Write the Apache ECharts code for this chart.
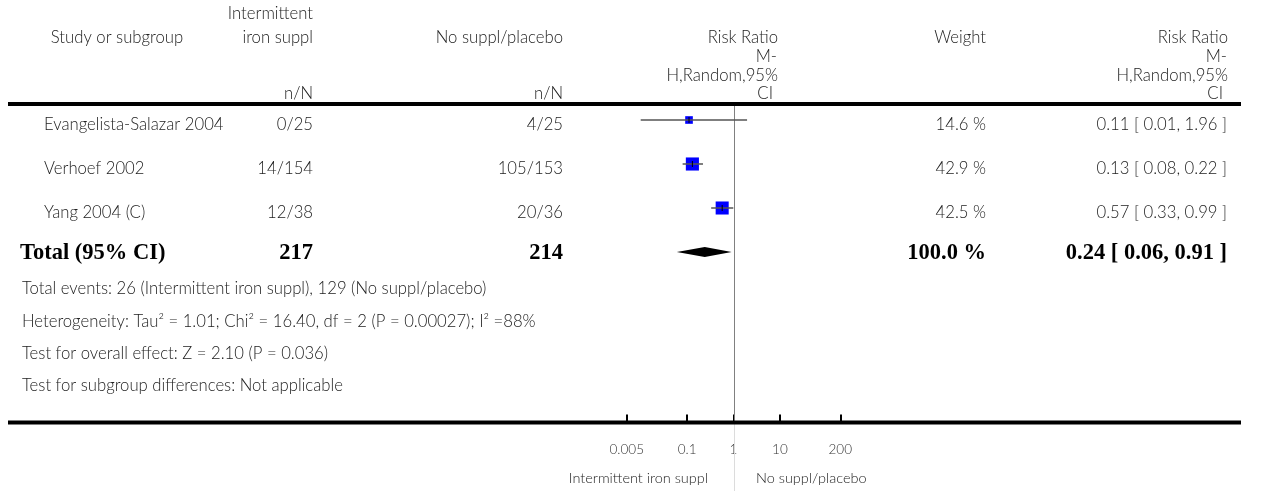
<!DOCTYPE html>
<html>
<head>
<meta charset="utf-8">
<script src="https://cdn.jsdelivr.net/npm/echarts@6/dist/echarts.min.js"></script>
<style>
html,body{margin:0;padding:0;background:#fff;}
#chart{width:1268px;height:491px;}
</style>
</head>
<body>
<div id="chart"></div>
<script>
// ---------------- DATA ----------------
const studyNames = ['Evangelista-Salazar 2004', 'Verhoef 2002', 'Yang 2004 (C)'];
const ironEvents = ['0/25', '14/154', '12/38'];
const placeboEvents = ['4/25', '105/153', '20/36'];
const riskRatio = [0.11, 0.13, 0.57];
const ciLower = [0.01, 0.08, 0.33];
const ciUpper = [1.96, 0.22, 0.99];
const weightPct = [14.6, 42.9, 42.5];

const totalLabel = 'Total (95% CI)';
const totalIron = 217;
const totalPlacebo = 214;
const totalRR = 0.24;
const totalLower = 0.06;
const totalUpper = 0.91;
const totalWeight = 100.0;

const tickValues = [0.005, 0.1, 1, 10, 200];
const tickLabels = ['0.005', '0.1', '1', '10', '200'];

const footerLines = [
  'Total events: 26 (Intermittent iron suppl), 129 (No suppl/placebo)',
  'Heterogeneity: Tau² = 1.01; Chi² = 16.40, df = 2 (P = 0.00027); I² =88%',
  'Test for overall effect: Z = 2.10 (P = 0.036)',
  'Test for subgroup differences: Not applicable'
];
const headerStudy = ['Study or subgroup'];
const headerIron = ['Intermittent', 'iron suppl', 'n/N'];
const headerPlacebo = ['No suppl/placebo', 'n/N'];
const headerPlot = ['Risk Ratio', 'M-', 'H,Random,95%', 'CI'];
const headerWeight = ['Weight'];
const headerRR = ['Risk Ratio', 'M-', 'H,Random,95%', 'CI'];
const favoursLeft = 'Intermittent iron suppl';
const favoursRight = 'No suppl/placebo';

// ---------------- LAYOUT / STYLE ----------------
const SANS = 'Lato, "Noto Sans", sans-serif';
const SERIF = '"Liberation Serif", "DejaVu Serif", serif';
const TXT = '#222';
const FS = 16.7;
const BFS = 22.5;
const COL = { study: 44, iron: 313, placebo: 563, weight: 986, rr: 1227 };
const LINE_L = 8, LINE_R = 1241;
const HEAD_LINE_Y = 104, AXIS_Y = 422.5;

const fmt2 = v => v.toFixed(2);
const rrText = (r, l, h) => `${fmt2(r)} [ ${fmt2(l)}, ${fmt2(h)} ]`;
const lg = v => Math.log10(v);

function txt(text, x, y, align, opts) {
  opts = opts || {};
  return {
    type: 'text', x: x, y: y, silent: true,
    style: {
      text: text, textAlign: align, textVerticalAlign: 'middle',
      fontFamily: opts.serif ? SERIF : SANS,
      fontSize: opts.size || FS,
      fontWeight: opts.bold ? 'bold' : (opts.weight || 300),
      fill: opts.color || TXT
    }
  };
}

const graphics = [];
// header texts
const headY = [38, 57, 76, 94];
graphics.push(txt(headerStudy[0], 117, headY[0], 'center'));
graphics.push(txt(headerIron[0], COL.iron, 14, 'right'));
graphics.push(txt(headerIron[1], COL.iron, headY[0], 'right'));
graphics.push(txt(headerIron[2], COL.iron, headY[3], 'right'));
graphics.push(txt(headerPlacebo[0], COL.placebo, headY[0], 'right'));
graphics.push(txt(headerPlacebo[1], COL.placebo, headY[3], 'right'));
const plotHeadX = [778, 777, 778, 773];
const rrHeadX = [1228, 1227, 1228, 1223];
headerPlot.forEach((t, i) => graphics.push(txt(t, plotHeadX[i], headY[i], 'right')));
headerRR.forEach((t, i) => graphics.push(txt(t, rrHeadX[i], headY[i], 'right')));
graphics.push(txt(headerWeight[0], COL.weight, headY[0], 'right'));
// rules
graphics.push({ type: 'rect', silent: true, z: 10, shape: { x: LINE_L, y: HEAD_LINE_Y - 2, width: LINE_R - LINE_L, height: 4 }, style: { fill: '#000' } });
graphics.push({ type: 'rect', silent: true, z: 10, shape: { x: LINE_L, y: AXIS_Y - 2, width: LINE_R - LINE_L, height: 4 }, style: { fill: '#000' } });
// footer
footerLines.forEach((t, i) => graphics.push(txt(t, 22, 289 + 32.3 * i, 'left')));
// favours
graphics.push(txt(favoursLeft, 708, 478, 'right', { size: 14.5 }));
graphics.push(txt(favoursRight, 756, 478, 'left', { size: 14.5 }));

const chart = echarts.init(document.getElementById('chart'), null, { renderer: 'canvas' });

const studyData = studyNames.map((_, i) => [lg(riskRatio[i]), i, lg(ciLower[i]), lg(ciUpper[i]), weightPct[i]]);
const totalData = [[lg(totalRR), studyNames.length, lg(totalLower), lg(totalUpper)]];
const tableData = studyNames.map((_, i) => [0, i]).concat([[0, studyNames.length]]);

const option = {
  animation: false,
  backgroundColor: '#fff',
  grid: { left: 594.3, right: 395.3, top: 98, bottom: 491 - AXIS_Y, containLabel: false },
  xAxis: {
    type: 'value', min: -3, max: 3, position: 'bottom',
    axisLine: { show: false, onZero: false },
    splitLine: { show: false },
    axisTick: {
      show: true, inside: true, length: 8,
      lineStyle: { color: '#000', width: 2 },
      customValues: tickValues.map(lg)
    },
    axisLabel: {
      customValues: tickValues.map(lg),
      margin: 20,
      fontFamily: SANS, fontSize: 13.5, fontWeight: 300, color: '#333',
      formatter: function (v) {
        for (let i = 0; i < tickValues.length; i++) {
          if (Math.abs(lg(tickValues[i]) - v) < 1e-6) return tickLabels[i];
        }
        return '';
      }
    }
  },
  yAxis: { type: 'value', inverse: true, min: -0.5, max: (AXIS_Y - 98) / 44 - 0.5, show: false },
  graphic: graphics,
  series: [
    {
      type: 'custom', name: 'ref', silent: true, z: 1,
      data: [[0, 0]],
      renderItem: function (params, api) {
        const x = Math.round(api.coord([0, 0])[0]) + 0.5;
        return {
          type: 'group', children: [
            { type: 'line', shape: { x1: x, y1: HEAD_LINE_Y, x2: x, y2: AXIS_Y }, style: { stroke: '#808080', lineWidth: 1 } },
            { type: 'line', shape: { x1: x, y1: AXIS_Y, x2: x, y2: 491 }, style: { stroke: '#dcdcdc', lineWidth: 1 } }
          ]
        };
      }
    },
    {
      type: 'custom', name: 'studies', silent: true, z: 3,
      data: studyData,
      encode: { x: [0, 2, 3], y: 1 },
      renderItem: function (params, api) {
        const c = api.coord([api.value(0), api.value(1)]);
        const l = api.coord([api.value(2), api.value(1)]);
        const h = api.coord([api.value(3), api.value(1)]);
        const side = 2 * Math.sqrt(api.value(4));
        return {
          type: 'group', children: [
            { type: 'rect', shape: { x: c[0] - side / 2, y: c[1] - side / 2, width: side, height: side }, style: { fill: '#0000ff' } },
            { type: 'line', shape: { x1: l[0], y1: c[1], x2: h[0], y2: c[1] }, style: { stroke: '#555', lineWidth: 1.5 } },
            { type: 'line', shape: { x1: c[0], y1: c[1] - 3, x2: c[0], y2: c[1] + 3 }, style: { stroke: '#000', lineWidth: 1 } }
          ]
        };
      }
    },
    {
      type: 'custom', name: 'total', silent: true, z: 3,
      data: totalData,
      encode: { x: [0, 2, 3], y: 1 },
      renderItem: function (params, api) {
        const c = api.coord([api.value(0), api.value(1)]);
        const l = api.coord([api.value(2), api.value(1)]);
        const h = api.coord([api.value(3), api.value(1)]);
        return {
          type: 'polygon',
          shape: { points: [[l[0], c[1]], [c[0], c[1] - 5], [h[0], c[1]], [c[0], c[1] + 5]] },
          style: { fill: '#000' }
        };
      }
    },
    {
      type: 'custom', name: 'table', silent: true, z: 2,
      data: tableData,
      renderItem: function (params, api) {
        const i = api.value(1);
        const y = api.coord([0, i])[1];
        if (i < studyNames.length) {
          const ty = y + 4.5;
          return {
            type: 'group', children: [
              txt(studyNames[i], COL.study, ty, 'left'),
              txt(ironEvents[i], COL.iron, ty, 'right'),
              txt(placeboEvents[i], COL.placebo, ty, 'right'),
              txt(weightPct[i].toFixed(1) + ' %', COL.weight, ty, 'right'),
              txt(rrText(riskRatio[i], ciLower[i], ciUpper[i]), COL.rr, ty, 'right')
            ]
          };
        }
        const ty = y + 1.5;
        const b = { serif: true, bold: true, size: BFS, color: '#000' };
        return {
          type: 'group', children: [
            txt(totalLabel, 20, ty, 'left', b),
            txt(String(totalIron), COL.iron, ty, 'right', b),
            txt(String(totalPlacebo), COL.placebo, ty, 'right', b),
            txt(totalWeight.toFixed(1) + ' %', COL.weight, ty, 'right', b),
            txt(rrText(totalRR, totalLower, totalUpper), COL.rr, ty, 'right', b)
          ]
        };
      }
    }
  ]
};
chart.setOption(option);
</script>
</body>
</html>
